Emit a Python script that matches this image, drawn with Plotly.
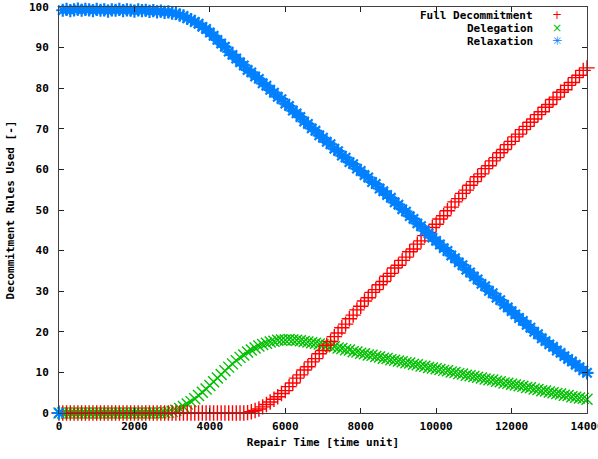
import plotly.graph_objects as go

# Repair time (x), sampled every 100 time units
repair_time = list(range(0, 14001, 100))

full_decommitment = [0.0] * 50 + [
    0.1, 0.3, 0.6, 1.0, 1.5, 2.1, 2.7, 3.4, 4.0, 4.8,
    5.5, 6.5, 7.4, 8.6, 9.4, 10.6, 11.4, 12.6, 13.4, 14.6,
    15.4, 16.7, 17.6, 18.8, 19.7, 21.0, 21.9, 23.2, 24.1, 25.4,
    26.3, 27.6, 28.4, 29.7, 30.4, 31.6, 32.4, 33.7, 34.4, 35.7,
    36.4, 37.6, 38.4, 39.7, 40.4, 41.6, 42.4, 43.7, 44.5, 45.7,
    46.5, 47.8, 48.6, 49.8, 50.7, 52.0, 52.8, 54.1, 54.9, 56.1,
    57.0, 58.2, 58.9, 60.2, 60.9, 62.1, 62.9, 64.1, 64.9, 66.1,
    66.9, 68.0, 68.7, 69.8, 70.6, 71.6, 72.4, 73.5, 74.2, 75.3,
    76.0, 77.2, 77.8, 79.0, 79.6, 80.7, 81.4, 82.6, 83.2, 84.4,
    85.0,
]

delegation = [0.0] * 28 + [
    0.1, 0.2,
    0.4, 0.7, 1.1, 1.6, 2.2, 2.8, 3.5, 4.3, 5.1, 5.9,
    6.8, 7.7, 8.6, 9.5, 10.4, 11.3, 12.1, 12.9, 13.7, 14.3,
    15.0, 15.5, 16.0, 16.5, 16.9, 17.2, 17.5, 17.7, 17.9, 18.0,
    18.0, 18.1, 18.0, 17.9, 17.8, 17.6, 17.5, 17.3, 17.2, 17.0,
    16.8, 16.7, 16.4, 16.3, 16.0, 15.9, 15.6, 15.5, 15.1, 15.0,
    14.7, 14.6, 14.3, 14.2, 13.9, 13.8, 13.5, 13.4, 13.1, 13.0,
    12.8, 12.6, 12.4, 12.3, 12.0, 11.9, 11.6, 11.5, 11.2, 11.1,
    10.9, 10.7, 10.5, 10.4, 10.1, 10.0, 9.7, 9.6, 9.3, 9.2,
    9.0, 8.8, 8.6, 8.4, 8.2, 8.1, 7.8, 7.7, 7.4, 7.3,
    7.1, 6.9, 6.7, 6.6, 6.3, 6.2, 5.9, 5.8, 5.5, 5.4,
    5.2, 5.0, 4.8, 4.7, 4.4, 4.3, 4.0, 3.9, 3.7, 3.6,
    3.4,
]

relaxation = [
    0.0, 99.2, 99.4, 99.1, 99.3, 99.5, 99.2, 99.4, 99.3, 99.1,
    99.4, 99.2, 99.3, 99.0, 99.3, 99.2, 99.4, 99.1, 99.3, 99.2,
    99.0, 99.3, 99.1, 99.2, 98.9, 99.1, 98.8, 99.0, 98.7, 98.8,
    98.5, 98.4, 98.0, 97.8, 97.2, 96.9, 96.3, 95.9, 95.1, 94.6,
    93.7, 92.9, 91.9, 91.0, 90.2, 89.0, 88.2, 87.3, 86.4, 85.6,
    84.5, 83.9, 82.9, 82.3, 81.2, 80.6, 79.6, 78.9, 77.9, 77.3,
    76.2, 75.6, 74.5, 73.8, 72.9, 71.8, 71.2, 70.1, 69.5, 68.4,
    67.8, 66.8, 66.2, 65.1, 64.5, 63.4, 62.9, 61.8, 61.3, 60.2,
    59.6, 58.6, 58.0, 56.9, 56.4, 55.3, 54.6, 53.7, 53.0, 51.9,
    51.3, 50.2, 49.6, 48.5, 47.8, 46.7, 46.0, 44.9, 44.2, 43.2,
    42.4, 41.5, 40.6, 39.9, 38.8, 38.1, 37.1, 36.4, 35.3, 34.6,
    33.6, 32.9, 31.8, 31.2, 30.1, 29.5, 28.4, 27.8, 26.7, 26.0,
    25.1, 24.3, 23.4, 22.7, 21.7, 21.0, 20.0, 19.4, 18.4, 17.7,
    16.9, 16.3, 15.4, 14.8, 14.0, 13.3, 12.7, 11.9, 11.3, 10.5,
    9.9,
]

series_names = ["Full Decommitment", "Delegation", "Relaxation"]
x_ticks = [0, 2000, 4000, 6000, 8000, 10000, 12000, 14000]
y_ticks = [0, 10, 20, 30, 40, 50, 60, 70, 80, 90, 100]

assert len(full_decommitment) == len(repair_time)
assert len(delegation) == len(repair_time)
assert len(relaxation) == len(repair_time)

RED = "#ff0000"
GREEN = "#00c000"
BLUE = "#0080ff"
FONT = "DejaVu Sans Mono"

fig = go.Figure()

def add(name, values, symbol, color, size, lw):
    fig.add_trace(go.Scatter(
        x=repair_time, y=values, mode="markers", name=name,
        showlegend=False, cliponaxis=False,
        marker=dict(symbol=symbol, size=size, color=color,
                    line=dict(color=color, width=lw)),
    ))

add(series_names[1], delegation, "x-thin", GREEN, 11, 1.4)
add(series_names[0], full_decommitment, "cross-thin", RED, 11, 1.4)
add(series_names[2], relaxation, "asterisk", BLUE, 11, 2.2)

axis_common = dict(
    showgrid=False, zeroline=False, showline=True, linecolor="#404040",
    linewidth=1, mirror="allticks", ticks="inside", ticklen=5,
    tickcolor="#202020", tickwidth=1, automargin=False,
    ticklabeloverflow="allow",
    tickfont=dict(family=FONT, size=11, color="black", weight="bold"),
)

fig.update_xaxes(range=[0, 14000], tickvals=x_ticks,
                 ticktext=[str(v) for v in x_ticks],
                 ticklabelstandoff=3,
                 title=dict(text="Repair Time [time unit]", standoff=6,
                            font=dict(family=FONT, size=11, color="black", weight="bold")),
                 **axis_common)
fig.update_yaxes(range=[0, 100], tickvals=y_ticks,
                 ticktext=[str(v) for v in y_ticks],
                 ticklabelstandoff=7,
                 title=dict(text="Decommitment Rules Used [-]", standoff=12,
                            font=dict(family=FONT, size=11, color="black", weight="bold")),
                 **axis_common)

# Legend (gnuplot style: text right-aligned, key to the right)
legend_rows = [0.980, 0.948, 0.916]
key_glyphs = [("+", RED), ("\u00d7", GREEN), ("\u2733", BLUE)]
for name, yy, (glyph, col) in zip(series_names, legend_rows, key_glyphs):
    fig.add_annotation(x=0.9015, y=yy, xref="paper", yref="paper", text=name,
                       showarrow=False, xanchor="right", yanchor="middle",
                       font=dict(family=FONT, size=11, color="black", weight="bold"))
    fig.add_annotation(x=0.943, y=yy, xref="paper", yref="paper", text=glyph,
                       showarrow=False, xanchor="center", yanchor="middle",
                       font=dict(family="DejaVu Sans", size=12, color=col))

fig.update_layout(
    width=598, height=459,
    margin=dict(l=59, r=11, t=7, b=46),
    paper_bgcolor="white", plot_bgcolor="white",
    font=dict(family=FONT, size=11, color="black"),
    showlegend=False,
)

# Remove the default page margin so the figure fills the window exactly.
fig.write_html("out.html", config={"displayModeBar": False},
               post_script="document.body.style.margin='0';document.body.style.overflow='hidden';")
